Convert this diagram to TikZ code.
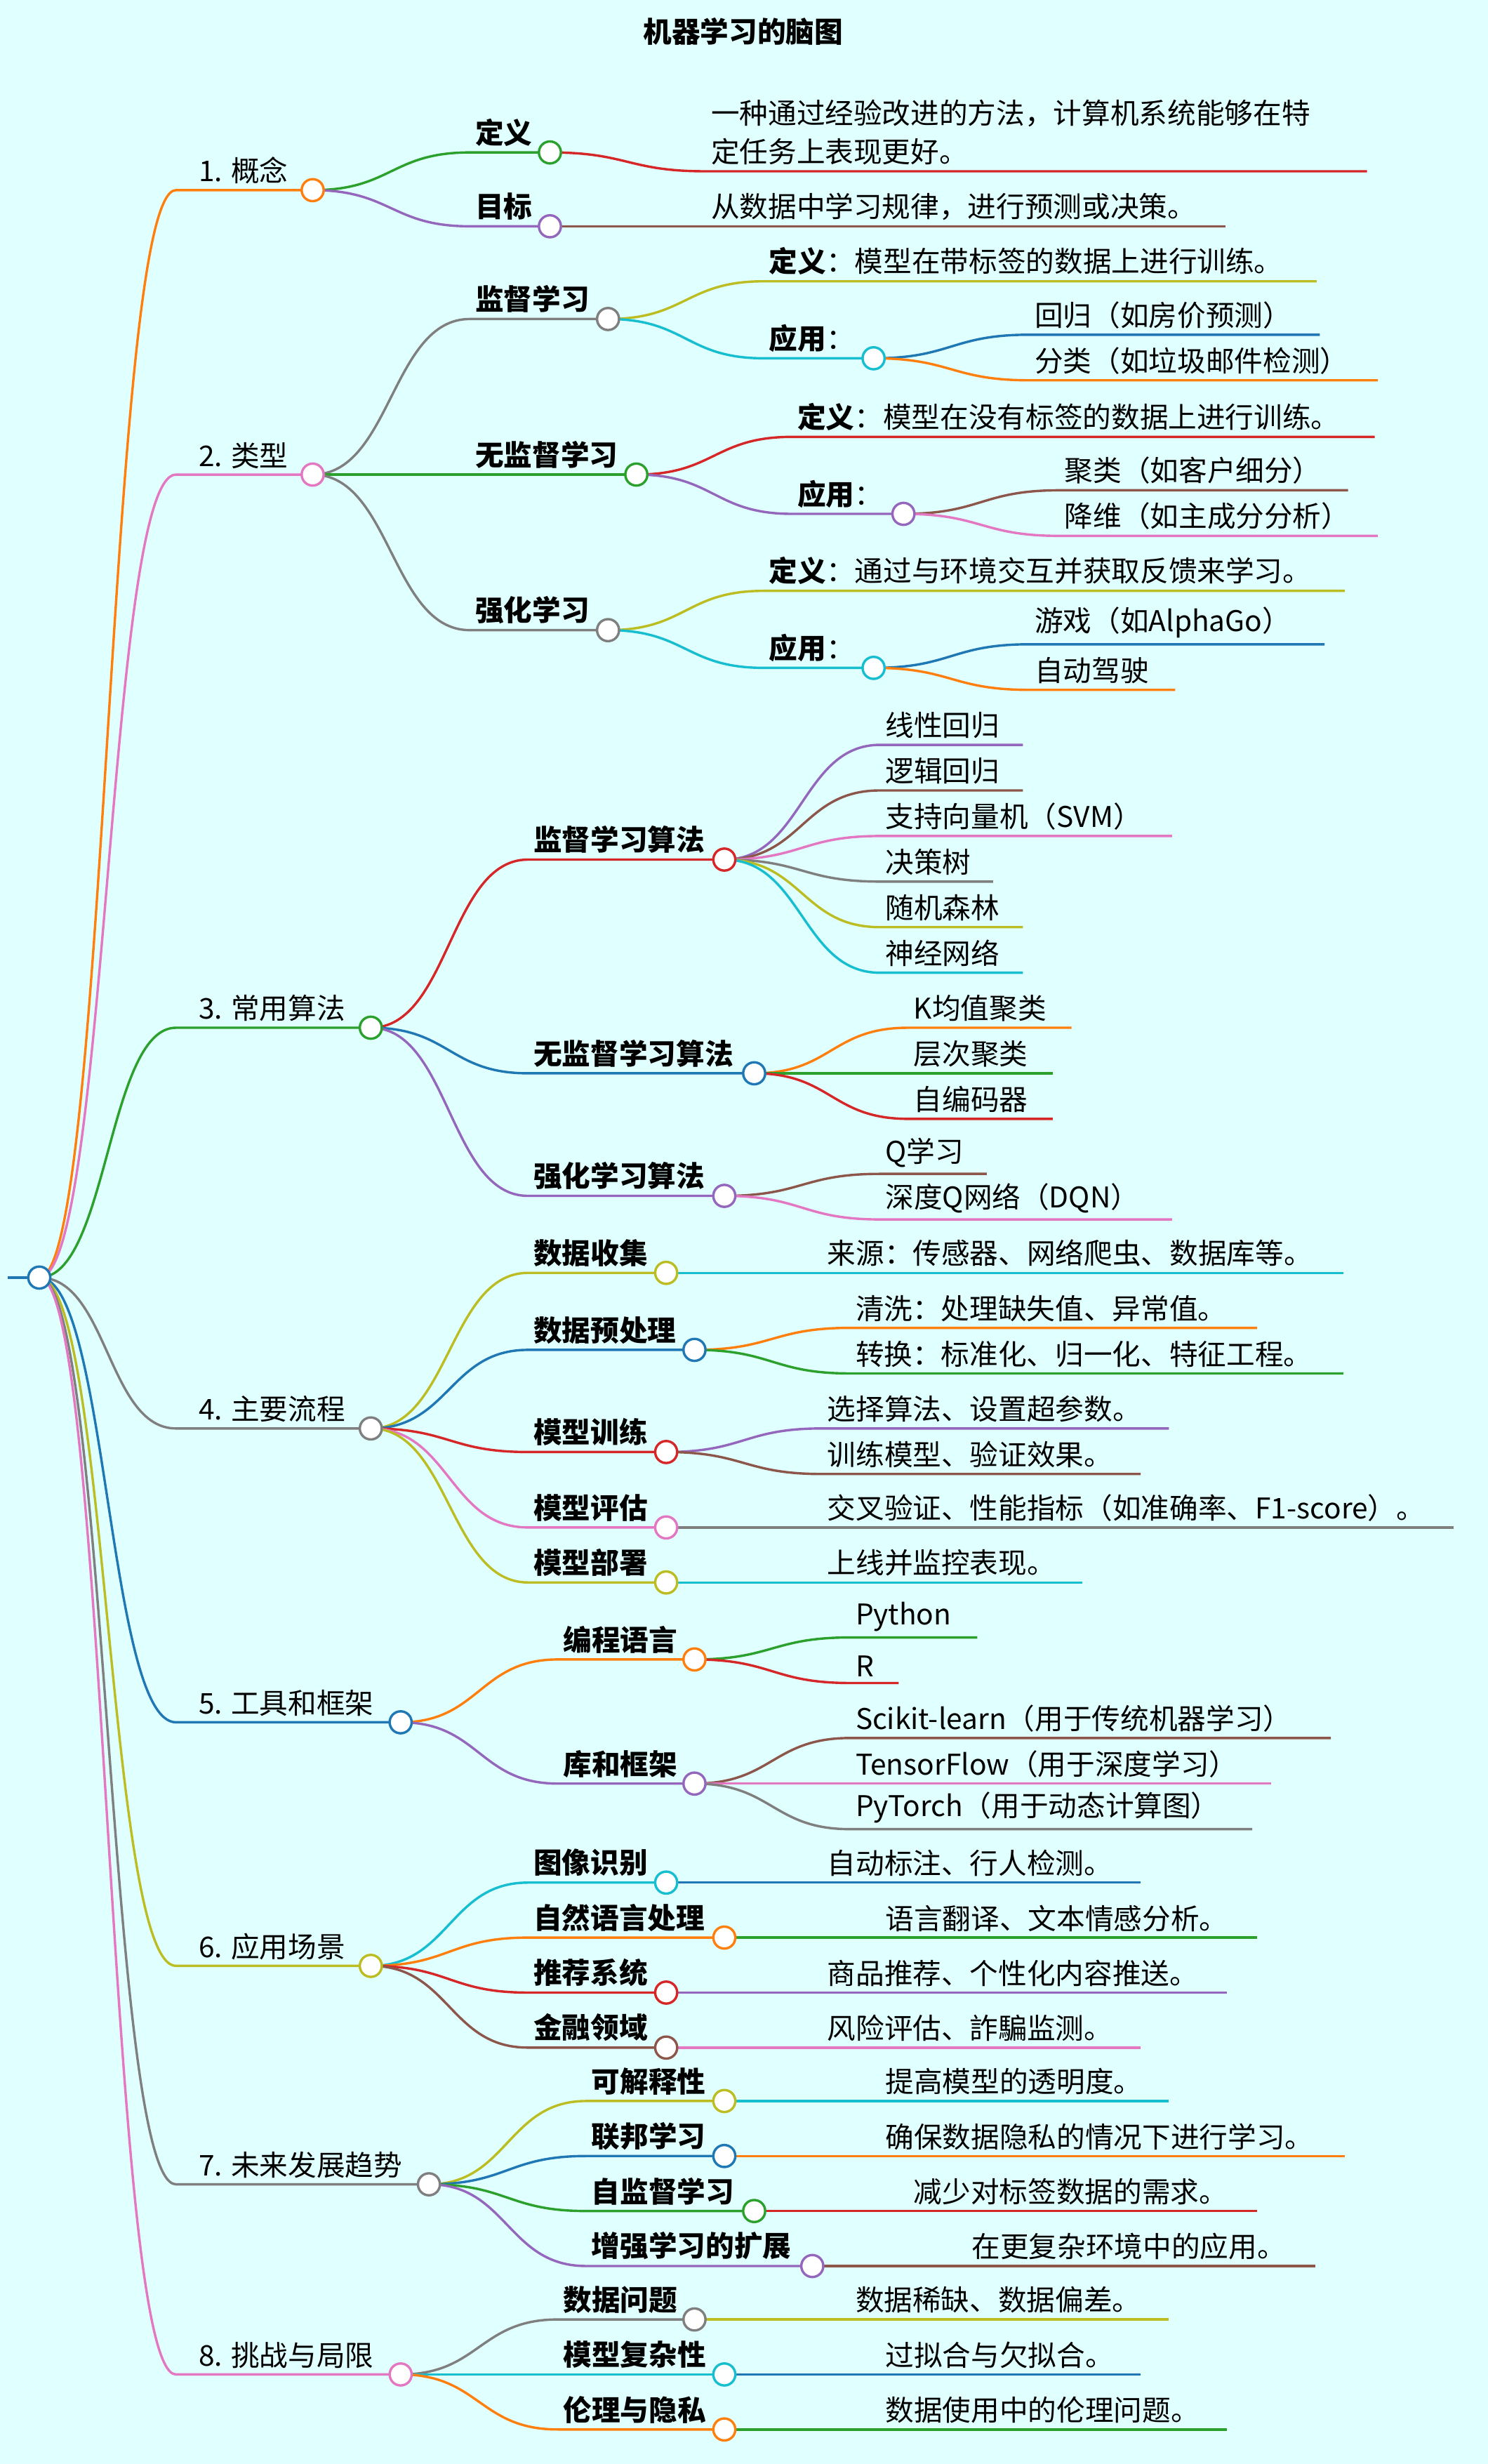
\documentclass[tikz,border=0pt]{standalone}
\usepackage{fontspec}
\setmainfont{Noto Sans CJK SC}
\usetikzlibrary{calc,positioning}

\definecolor{tblue}{HTML}{1F77B4}
\definecolor{torange}{HTML}{FF7F0E}
\definecolor{tgreen}{HTML}{2CA02C}
\definecolor{tred}{HTML}{D62728}
\definecolor{tpurple}{HTML}{9467BD}
\definecolor{tbrown}{HTML}{8C564B}
\definecolor{tpink}{HTML}{E377C2}
\definecolor{tgray}{HTML}{7F7F7F}
\definecolor{tolive}{HTML}{BCBD22}
\definecolor{tcyan}{HTML}{17BECF}
\definecolor{paper}{HTML}{E0FFFF}

\tikzset{
  link/.style={line width=1.3pt},
  lbl/.style={anchor=south west, inner sep=0pt, xshift=1mm, yshift=1.1mm,
    align=left, font=\fontsize{15.5}{21}\selectfont},
  knob/.style={circle, fill=white, line width=1.3pt, minimum size=4.2mm, inner sep=0pt}
}

% parent, name, colour, start x, y, end x, text
\newcommand\topic[7]{%
  \draw[link,#3] let \p1=(#1), \p2=(#4,#5) in
    (\p1) .. controls ({(\x1+\x2)/2},\y1) and ({(\x1+\x2)/2},\y2) .. (\p2)
    -- (#6,#5) coordinate (#2);
  \node[lbl] (#2t) at (#4,#5) {#7};}
\newcommand\knob[2]{\node[knob,draw=#1] (#2k) at (#2) {};}
\newcommand\ind{\hspace*{3.3mm}}

\begin{document}
\begin{tikzpicture}[x=0.3mm,y=-0.3mm]
  \fill[paper] (0,0) rectangle (947,1568);
  \useasboundingbox (0,0) rectangle (947,1568);
  \node[font=\fontsize{15.5}{19}\selectfont\bfseries] (title) at (473,20) {机器学习的脑图};

  \coordinate (root) at (25,813);
  \coordinate (rootin) at (5,813);
  \draw[link,tblue] (rootin) -- (root);

  % level one
  \topic{root}{a}{torange}{112}{121}{199}{\ind 1. 概念}
  \topic{root}{b}{tpink}{112}{302}{199}{\ind 2. 类型}
  \topic{root}{c}{tgreen}{112}{654}{236}{\ind 3. 常用算法}
  \topic{root}{d}{tgray}{112}{909}{236}{\ind 4. 主要流程}
  \topic{root}{e}{tblue}{112}{1096}{255}{\ind 5. 工具和框架}
  \topic{root}{f}{tolive}{112}{1251}{236}{\ind 6. 应用场景}
  \topic{root}{g}{tgray}{112}{1390}{273}{\ind 7. 未来发展趋势}
  \topic{root}{h}{tpink}{112}{1511}{255}{\ind 8. 挑战与局限}

  % 1. 概念
  \topic{a}{a1}{tgreen}{299}{97}{350}{\textbf{定义}}
  \topic{a}{a2}{tpurple}{299}{144}{350}{\textbf{目标}}
  \topic{a1}{a1a}{tred}{449}{109}{870}{一种通过经验改进的方法，计算机系统能够在特\\定任务上表现更好。}
  \topic{a2}{a2a}{tbrown}{449}{144}{780}{从数据中学习规律，进行预测或决策。}

  % 2. 类型
  \topic{b}{b1}{tgray}{299}{203}{387}{\textbf{监督学习}}
  \topic{b}{b2}{tgreen}{299}{302}{405}{\textbf{无监督学习}}
  \topic{b}{b3}{tgray}{299}{401}{387}{\textbf{强化学习}}
  \topic{b1}{b1a}{tolive}{486}{179}{838}{\textbf{定义}：模型在带标签的数据上进行训练。}
  \topic{b1}{b1b}{tcyan}{486}{228}{556}{\textbf{应用}：}
  \topic{b1b}{b1b1}{tblue}{655}{213}{840}{回归（如房价预测）}
  \topic{b1b}{b1b2}{torange}{655}{242}{877}{分类（如垃圾邮件检测）}
  \topic{b2}{b2a}{tred}{504}{278}{875}{\textbf{定义}：模型在没有标签的数据上进行训练。}
  \topic{b2}{b2b}{tpurple}{504}{327}{575}{\textbf{应用}：}
  \topic{b2b}{b2b1}{tbrown}{674}{312}{858}{聚类（如客户细分）}
  \topic{b2b}{b2b2}{tpink}{674}{341}{877}{降维（如主成分分析）}
  \topic{b3}{b3a}{tolive}{486}{376}{856}{\textbf{定义}：通过与环境交互并获取反馈来学习。}
  \topic{b3}{b3b}{tcyan}{486}{425}{556}{\textbf{应用}：}
  \topic{b3b}{b3b1}{tblue}{655}{410}{843}{游戏（如AlphaGo）}
  \topic{b3b}{b3b2}{torange}{655}{439}{748}{自动驾驶}

  % 3. 常用算法
  \topic{c}{c1}{tred}{336}{547}{461}{\textbf{监督学习算法}}
  \topic{c}{c2}{tblue}{336}{683}{480}{\textbf{无监督学习算法}}
  \topic{c}{c3}{tpurple}{336}{761}{461}{\textbf{强化学习算法}}
  \topic{c1}{c1a}{tpurple}{560}{474}{651}{线性回归}
  \topic{c1}{c1b}{tbrown}{560}{503}{651}{逻辑回归}
  \topic{c1}{c1c}{tpink}{560}{532}{746}{支持向量机（SVM）}
  \topic{c1}{c1d}{tgray}{560}{561}{632}{决策树}
  \topic{c1}{c1e}{tolive}{560}{590}{651}{随机森林}
  \topic{c1}{c1f}{tcyan}{560}{619}{651}{神经网络}
  \topic{c2}{c2a}{torange}{578}{654}{682}{K均值聚类}
  \topic{c2}{c2b}{tgreen}{578}{683}{670}{层次聚类}
  \topic{c2}{c2c}{tred}{578}{712}{670}{自编码器}
  \topic{c3}{c3a}{tbrown}{560}{747}{628}{Q学习}
  \topic{c3}{c3b}{tpink}{560}{776}{746}{深度Q网络（DQN）}

  % 4. 主要流程
  \topic{d}{d1}{tolive}{336}{810}{424}{\textbf{数据收集}}
  \topic{d}{d2}{tblue}{336}{859}{442}{\textbf{数据预处理}}
  \topic{d}{d3}{tred}{336}{924}{424}{\textbf{模型训练}}
  \topic{d}{d4}{tpink}{336}{972}{424}{\textbf{模型评估}}
  \topic{d}{d5}{tolive}{336}{1007}{424}{\textbf{模型部署}}
  \topic{d1}{d1a}{tcyan}{523}{810}{855}{来源：传感器、网络爬虫、数据库等。}
  \topic{d2}{d2a}{torange}{541}{845}{800}{清洗：处理缺失值、异常值。}
  \topic{d2}{d2b}{tgreen}{541}{874}{855}{转换：标准化、归一化、特征工程。}
  \topic{d3}{d3a}{tpurple}{523}{909}{744}{选择算法、设置超参数。}
  \topic{d3}{d3b}{tbrown}{523}{938}{726}{训练模型、验证效果。}
  \topic{d4}{d4a}{tgray}{523}{972}{925}{交叉验证、性能指标（如准确率、F1-score）。}
  \topic{d5}{d5a}{tcyan}{523}{1007}{689}{上线并监控表现。}

  % 5. 工具和框架
  \topic{e}{e1}{torange}{355}{1056}{442}{\textbf{编程语言}}
  \topic{e}{e2}{tpurple}{355}{1135}{442}{\textbf{库和框架}}
  \topic{e1}{e1a}{tgreen}{541}{1042}{622}{Python}
  \topic{e1}{e1b}{tred}{541}{1071}{572}{R}
  \topic{e2}{e2a}{tbrown}{541}{1106}{847}{Scikit-learn（用于传统机器学习）}
  \topic{e2}{e2b}{tpink}{541}{1135}{809}{TensorFlow（用于深度学习）}
  \topic{e2}{e2c}{tgray}{541}{1164}{797}{PyTorch（用于动态计算图）}

  % 6. 应用场景
  \topic{f}{f1}{tcyan}{336}{1198}{424}{\textbf{图像识别}}
  \topic{f}{f2}{torange}{336}{1233}{461}{\textbf{自然语言处理}}
  \topic{f}{f3}{tred}{336}{1268}{424}{\textbf{推荐系统}}
  \topic{f}{f4}{tbrown}{336}{1303}{424}{\textbf{金融领域}}
  \topic{f1}{f1a}{tblue}{523}{1198}{726}{自动标注、行人检测。}
  \topic{f2}{f2a}{tgreen}{560}{1233}{800}{语言翻译、文本情感分析。}
  \topic{f3}{f3a}{tpurple}{523}{1268}{781}{商品推荐、个性化内容推送。}
  \topic{f4}{f4a}{tpink}{523}{1303}{726}{风险评估、詐騙监测。}

  % 7. 未来发展趋势
  \topic{g}{g1}{tolive}{373}{1337}{461}{\textbf{可解释性}}
  \topic{g}{g2}{tblue}{373}{1372}{461}{\textbf{联邦学习}}
  \topic{g}{g3}{tgreen}{373}{1407}{480}{\textbf{自监督学习}}
  \topic{g}{g4}{tpurple}{373}{1442}{517}{\textbf{增强学习的扩展}}
  \topic{g1}{g1a}{tcyan}{560}{1337}{744}{提高模型的透明度。}
  \topic{g2}{g2a}{torange}{560}{1372}{856}{确保数据隐私的情况下进行学习。}
  \topic{g3}{g3a}{tred}{578}{1407}{800}{减少对标签数据的需求。}
  \topic{g4}{g4a}{tbrown}{615}{1442}{837}{在更复杂环境中的应用。}

  % 8. 挑战与局限
  \topic{h}{h1}{tgray}{355}{1476}{442}{\textbf{数据问题}}
  \topic{h}{h2}{tcyan}{355}{1511}{461}{\textbf{模型复杂性}}
  \topic{h}{h3}{torange}{355}{1546}{461}{\textbf{伦理与隐私}}
  \topic{h1}{h1a}{tolive}{541}{1476}{744}{数据稀缺、数据偏差。}
  \topic{h2}{h2a}{tblue}{560}{1511}{726}{过拟合与欠拟合。}
  \topic{h3}{h3a}{tgreen}{560}{1546}{781}{数据使用中的伦理问题。}

  % branch points on top
  \knob{tblue}{root}
  \knob{torange}{a} \knob{tpink}{b} \knob{tgreen}{c} \knob{tgray}{d}
  \knob{tblue}{e} \knob{tolive}{f} \knob{tgray}{g} \knob{tpink}{h}
  \knob{tgreen}{a1} \knob{tpurple}{a2}
  \knob{tgray}{b1} \knob{tgreen}{b2} \knob{tgray}{b3}
  \knob{tcyan}{b1b} \knob{tpurple}{b2b} \knob{tcyan}{b3b}
  \knob{tred}{c1} \knob{tblue}{c2} \knob{tpurple}{c3}
  \knob{tolive}{d1} \knob{tblue}{d2} \knob{tred}{d3} \knob{tpink}{d4} \knob{tolive}{d5}
  \knob{torange}{e1} \knob{tpurple}{e2}
  \knob{tcyan}{f1} \knob{torange}{f2} \knob{tred}{f3} \knob{tbrown}{f4}
  \knob{tolive}{g1} \knob{tblue}{g2} \knob{tgreen}{g3} \knob{tpurple}{g4}
  \knob{tgray}{h1} \knob{tcyan}{h2} \knob{torange}{h3}
\end{tikzpicture}
\end{document}
